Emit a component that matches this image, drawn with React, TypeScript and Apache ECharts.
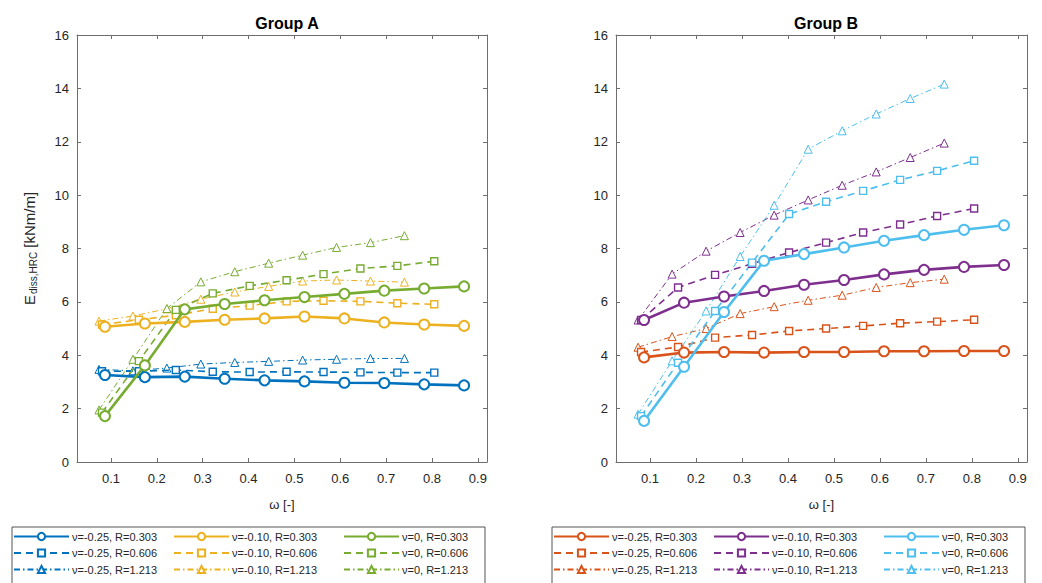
import React, { useEffect, useRef } from "react";
import * as echarts from "echarts";

// omega values for each R
const xR303 = [0.087, 0.174, 0.261, 0.348, 0.435, 0.522, 0.609, 0.696, 0.783, 0.87];
const xR606 = [0.0805, 0.161, 0.2415, 0.322, 0.4025, 0.483, 0.5635, 0.644, 0.7245, 0.805];
const xR1213 = [0.074, 0.148, 0.222, 0.296, 0.37, 0.444, 0.518, 0.592, 0.666, 0.74];

const xTicks = [0.1, 0.2, 0.3, 0.4, 0.5, 0.6, 0.7, 0.8, 0.9];

// Group A
const aNu025R303 = [3.26, 3.18, 3.2, 3.12, 3.06, 3.02, 2.97, 2.96, 2.91, 2.87];
const aNu025R606 = [3.4, 3.4, 3.45, 3.38, 3.37, 3.38, 3.37, 3.36, 3.35, 3.35];
const aNu025R1213 = [3.47, 3.42, 3.52, 3.67, 3.73, 3.77, 3.82, 3.85, 3.88, 3.88];
const aNu010R303 = [5.07, 5.19, 5.25, 5.33, 5.38, 5.45, 5.38, 5.23, 5.15, 5.1];
const aNu010R606 = [5.15, 5.33, 5.5, 5.74, 5.86, 6.02, 6.04, 6.02, 5.95, 5.91];
const aNu010R1213 = [5.28, 5.47, 5.74, 6.1, 6.37, 6.58, 6.78, 6.82, 6.78, 6.74];
const aNu0R303 = [1.72, 3.62, 5.72, 5.92, 6.06, 6.18, 6.3, 6.42, 6.5, 6.58];
const aNu0R606 = [1.85, 3.78, 5.7, 6.32, 6.6, 6.81, 7.04, 7.25, 7.35, 7.52];
const aNu0R1213 = [1.95, 3.85, 5.75, 6.75, 7.13, 7.45, 7.75, 8.04, 8.22, 8.48];

// Group B
const bNu025R303 = [3.92, 4.1, 4.12, 4.1, 4.12, 4.12, 4.15, 4.15, 4.16, 4.16];
const bNu025R606 = [4.12, 4.31, 4.66, 4.76, 4.91, 5.0, 5.1, 5.2, 5.26, 5.33];
const bNu025R1213 = [4.3, 4.7, 5.0, 5.56, 5.82, 6.06, 6.25, 6.54, 6.72, 6.85];
const bNu010R303 = [5.32, 5.97, 6.2, 6.41, 6.64, 6.82, 7.03, 7.2, 7.31, 7.38];
const bNu010R606 = [5.32, 6.54, 7.01, 7.43, 7.85, 8.22, 8.6, 8.9, 9.22, 9.5];
const bNu010R1213 = [5.32, 7.04, 7.9, 8.6, 9.25, 9.82, 10.37, 10.87, 11.41, 11.95];
const bNu0R303 = [1.54, 3.57, 5.62, 7.54, 7.79, 8.04, 8.29, 8.5, 8.7, 8.87];
const bNu0R606 = [1.72, 3.72, 5.66, 7.47, 9.29, 9.75, 10.16, 10.57, 10.91, 11.29];
const bNu0R1213 = [1.79, 3.79, 5.66, 7.7, 9.62, 11.72, 12.41, 13.04, 13.62, 14.16];

const nuLabels = ["-0.25", "-0.10", "0"];
const rLabels = ["0.303", "0.606", "1.213"];

const colorsA = ["#0072BD", "#EDB120", "#77AC30"];
const colorsB = ["#D95319", "#7E2F8E", "#4DBEEE"];

const dataA = [
  [aNu025R303, aNu025R606, aNu025R1213],
  [aNu010R303, aNu010R606, aNu010R1213],
  [aNu0R303, aNu0R606, aNu0R1213],
];
const dataB = [
  [bNu025R303, bNu025R606, bNu025R1213],
  [bNu010R303, bNu010R606, bNu010R1213],
  [bNu0R303, bNu0R606, bNu0R1213],
];
const xByR = [xR303, xR606, xR1213];

const rStyles = [
  { width: 2.6, type: "solid" as any, symbol: "circle", size: 10, bw: 2 },
  { width: 1.6, type: [7, 5] as any, symbol: "rect", size: 7, bw: 1.4 },
  { width: 1, type: [6, 3, 1.5, 3] as any, symbol: "triangle", size: 8, bw: 1 },
];

const axisColor = "#6e6e6e";
const textColor = "#262626";
const FONT = "'Liberation Sans', Arial, sans-serif";

function seriesName(g: string, nu: string, r: string) {
  return `${g}|ν=${nu}, R=${r}`;
}

function buildSeries(g: string, data: number[][][], colors: string[], idx: number) {
  const out: any[] = [];
  for (let n = 0; n < 3; n++) {
    for (let r = 0; r < 3; r++) {
      const st = rStyles[r];
      out.push({
        name: seriesName(g, nuLabels[n], rLabels[r]),
        type: "line",
        xAxisIndex: idx * 2,
        yAxisIndex: idx * 2,
        data: xByR[r].map((x, i) => [x, data[n][r][i]]),
        symbol: st.symbol,
        symbolSize: st.size,
        showAllSymbol: true,
        lineStyle: { color: colors[n], width: st.width, type: st.type },
        itemStyle: { color: "#ffffff", borderColor: colors[n], borderWidth: st.bw },
        z: 10 - r,
      });
    }
  }
  return out;
}

function makeAxes(idx: number, showName: boolean) {
  const xMain = {
    type: "value",
    gridIndex: idx,
    min: 0.026,
    max: 0.92,
    name: "ω [-]",
    nameLocation: "middle",
    nameGap: 36,
    nameTextStyle: { color: textColor, fontSize: 13, fontFamily: FONT },
    axisLine: { show: true, onZero: false, lineStyle: { color: axisColor, width: 1 } },
    axisTick: { show: true, inside: true, length: 4, customValues: xTicks, lineStyle: { color: axisColor } },
    axisLabel: {
      show: true,
      customValues: xTicks,
      color: textColor,
      fontSize: 13,
      fontFamily: FONT,
      margin: 10,
      formatter: (v: number) => v.toFixed(1),
    },
    splitLine: { show: false },
  };
  const xTop = {
    type: "value",
    gridIndex: idx,
    position: "top",
    min: 0.026,
    max: 0.92,
    axisLine: { show: true, onZero: false, lineStyle: { color: axisColor, width: 1 } },
    axisTick: { show: true, inside: true, length: 4, customValues: xTicks, lineStyle: { color: axisColor } },
    axisLabel: { show: false },
    splitLine: { show: false },
  };
  const yMain: any = {
    type: "value",
    gridIndex: idx,
    min: 0,
    max: 16,
    interval: 2,
    axisLine: { show: true, onZero: false, lineStyle: { color: axisColor, width: 1 } },
    axisTick: { show: true, inside: true, length: 4, lineStyle: { color: axisColor } },
    axisLabel: { color: textColor, fontSize: 13, fontFamily: FONT, margin: 8 },
    splitLine: { show: false },
  };
  if (showName) {
    yMain.name = "{e|E}{s|diss,HRC}{e| [kNm/m]}";
    yMain.nameLocation = "middle";
    yMain.nameGap = 38;
    yMain.nameTextStyle = {
      color: textColor,
      fontFamily: FONT,
      rich: {
        e: { fontSize: 15, color: textColor, fontFamily: FONT, lineHeight: 20 },
        s: { fontSize: 10, color: textColor, fontFamily: FONT, lineHeight: 20, padding: [9, 0, 0, 1] },
      },
    };
  }
  const yRight = {
    type: "value",
    gridIndex: idx,
    position: "right",
    min: 0,
    max: 16,
    interval: 2,
    axisLine: { show: true, onZero: false, lineStyle: { color: axisColor, width: 1 } },
    axisTick: { show: true, inside: true, length: 4, lineStyle: { color: axisColor } },
    axisLabel: { show: false },
    splitLine: { show: false },
  };
  return { x: [xMain, xTop], y: [yMain, yRight] };
}

function makeLegends(g: string, colLefts: number[]) {
  return nuLabels.map((nu, n) => ({
    orient: "vertical",
    left: colLefts[n],
    top: 531,
    itemWidth: 55,
    itemHeight: 9,
    itemGap: 5.5,
    padding: 0,
    data: rLabels.map((r) => seriesName(g, nu, r)),
    formatter: (name: string) => name.split("|")[1],
    textStyle: { color: textColor, fontSize: 11, fontFamily: FONT, padding: [0, 0, 0, -2] },
    selectedMode: false,
  }));
}

export default function App() {
  const ref = useRef<HTMLDivElement>(null);
  useEffect(() => {
    if (!ref.current) return;
    const chart = echarts.init(ref.current, undefined, { renderer: "svg" });
    const axA = makeAxes(0, true);
    const axB = makeAxes(1, false);
    const option: any = {
      animation: false,
      backgroundColor: "#ffffff",
      title: [
        { text: "Group A", left: 282, top: 10, textAlign: "center", textStyle: { fontSize: 16, fontWeight: "bold", color: "#000", fontFamily: FONT } },
        { text: "Group B", left: 821, top: 10, textAlign: "center", textStyle: { fontSize: 16, fontWeight: "bold", color: "#000", fontFamily: FONT } },
      ],
      grid: [
        { left: 77, top: 35, width: 410, height: 427 },
        { left: 616, top: 35, width: 411, height: 427 },
      ],
      xAxis: [...axA.x, ...axB.x],
      yAxis: [...axA.y, ...axB.y],
      legend: [...makeLegends("A", [13, 173, 343]), ...makeLegends("B", [553, 713, 883])],
      graphic: [
        { type: "rect", shape: { x: 12, y: 527, width: 473, height: 70 }, style: { fill: "none", stroke: "#555", lineWidth: 1 }, z: 0 },
        { type: "rect", shape: { x: 552, y: 527, width: 473, height: 70 }, style: { fill: "none", stroke: "#555", lineWidth: 1 }, z: 0 },
      ],
      series: [...buildSeries("A", dataA, colorsA, 0), ...buildSeries("B", dataB, colorsB, 1)],
    };
    chart.setOption(option);
    return () => chart.dispose();
  }, []);
  return <div ref={ref} style={{ width: 1042, height: 583, position: "absolute", left: 0, top: 0 }} />;
}
